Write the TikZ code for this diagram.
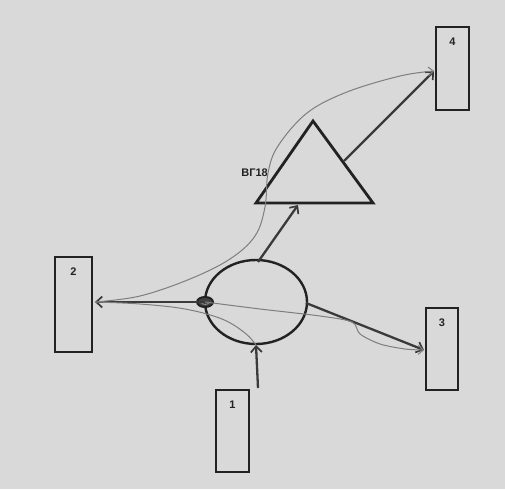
\documentclass[tikz,border=0pt]{standalone}
\usepackage{fontspec}
\setmainfont{Liberation Sans}
\usetikzlibrary{arrows.meta,shapes.geometric}
\definecolor{paper}{HTML}{D9D9D9}
\definecolor{ink}{HTML}{222222}
\definecolor{wire}{HTML}{3A3A3A}
\definecolor{trace}{HTML}{7E7E7E}
\tikzset{
  blockbox/.style={draw=ink, line width=2.8pt, minimum width=#1, inner sep=0pt},
  tag/.style={font=\bfseries\fontsize{11}{11}\selectfont, text=ink},
  flow/.style={draw=wire, line width=2.3pt, -{Straight Barb[length=6pt,width=11pt,line width=1.7pt]}},
  thin trace/.style={draw=trace, line width=1pt},
  thin flow/.style={thin trace, -{Straight Barb[length=5pt,width=9pt,line width=1pt]}},
}
\begin{document}
\begin{tikzpicture}[x=1pt,y=-1pt]
  \fill[paper] (0,0) rectangle (505,489);
  \useasboundingbox (0,0) rectangle (505,489);

  % storage blocks
  \node[blockbox=33pt, minimum height=83pt,
        label={[tag,anchor=north,yshift=-9pt]north:4}] (b4) at (452.5,68.5) {};
  \node[blockbox=37pt, minimum height=95pt,
        label={[tag,anchor=north,yshift=-9pt]north:2}] (b2) at (73.5,304.5) {};
  \node[blockbox=32pt, minimum height=82pt,
        label={[tag,anchor=north,yshift=-9pt]north:3}] (b3) at (442,349) {};
  \node[blockbox=33pt, minimum height=82pt,
        label={[tag,anchor=north,yshift=-9pt]north:1}] (b1) at (232.5,431) {};

  % mixing vessel
  \node[ellipse, draw=ink, line width=2.4pt, minimum width=102pt,
        minimum height=84pt, inner sep=0pt] (mix) at (256,302) {};

  % separator triangle
  \coordinate (apex) at (313,121);
  \coordinate (bl) at (256,203);
  \coordinate (br) at (373,203);
  \draw[ink, line width=2.8pt, line join=miter] (apex) -- (bl) -- (br) -- cycle;
  \coordinate (tribase) at (298,205);
  \coordinate (triside) at (344,161);
  \node[tag, anchor=east, inner sep=0pt] (vg) at (268,173) {ВГ18};

  % valve knot on the vessel wall
  \coordinate (knot) at (205,302);
  \draw[ink, line width=2pt, fill=ink!85] (knot) ellipse [x radius=8, y radius=5];
  \draw[wire!60, line width=0.8pt] ([xshift=-4pt]knot) arc[start angle=180, end angle=20, x radius=4, y radius=2.5];

  % connectors
  \coordinate (feed) at (258,388);
  \coordinate (b2in) at (95,302);
  \coordinate (b4in) at (434,71);
  \coordinate (b3in) at (424,350);
  \coordinate (mixtop) at (258,262);
  \coordinate (mixright) at (306,303);
  \coordinate (mixbottom) at (256,345);

  \draw[flow] (feed) -- (mixbottom);
  \draw[flow] (mixtop) -- (tribase);
  \draw[flow] (triside) -- (b4in);
  \draw[flow] (mixright) -- (b3in);
  \draw[flow] (knot) -- (b2in);

  % thin return traces
  \draw[thin flow] plot[smooth, tension=0.6] coordinates {
    (b2in) (140,296) (190,279) (230,259) (255,236) (265,207)
    (268,173) (278,146) (307,113) (347,92) (400,76) (b4in)};
  \draw[thin trace] plot[smooth, tension=0.6] coordinates {
    (b2in) (140,304) (185,309) (222,319) (245,333) (mixbottom)};
  \draw[thin flow] plot[smooth, tension=0.5] coordinates {
    (knot) (260,309) (320,316) (352,322) (360,334) (380,344) (405,349) (b3in)};
\end{tikzpicture}
\end{document}
